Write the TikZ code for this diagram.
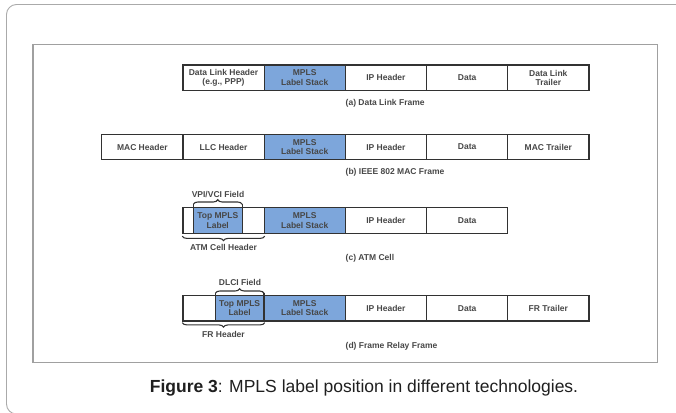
\documentclass[tikz,border=0pt]{standalone}
\usepackage{fontspec}
\setmainfont{Liberation Sans}
\usetikzlibrary{decorations.pathreplacing}
\definecolor{lblblue}{RGB}{125,166,219}
\definecolor{cellline}{RGB}{50,50,50}
\definecolor{framegray}{RGB}{160,160,160}

\begin{document}
\begin{tikzpicture}
  [x=1pt,y=-1pt,
   every node/.style={font=\fontsize{8.5}{9.5}\selectfont\bfseries,text=black!72},
   cell/.style={draw=cellline,line width=1.2pt,minimum width=81.2pt,minimum height=25.7pt,inner sep=0pt,align=center},
   blucell/.style={cell,fill=lblblue},
   toplbl/.style={fill=lblblue,minimum height=24.5pt,inner sep=0pt,align=center},
   bar/.style={draw=cellline,line width=1.3pt},
   brc/.style={draw=cellline,line width=1.1pt,decorate,decoration={brace,amplitude=4.5pt}},
   rowlbl/.style={anchor=west,inner sep=0pt}]
  \useasboundingbox (0,0) rectangle (676,412);
  \draw[framegray!90,line width=0.9pt,rounded corners=10pt] (6.5,4.5) rectangle (700,414);
  \draw[framegray,line width=1.4pt] (33,44.7) rectangle (657.7,362.5);

  % (a) data link frame
  \foreach \nm/\x/\txt in {a2/223.5/{Data Link Header\\(e.g., PPP)},a4/385.9/{IP Header},a5/467.1/{Data},a6/548.3/{Data Link\\Trailer}}
    \node[cell] (\nm) at (\x,77.8) {\txt};
  \node[blucell] (a3) at (304.7,77.8) {MPLS\\Label Stack};
  \node[rowlbl] (la) at (345.5,103) {(a) Data Link Frame};

  % (b) IEEE 802 MAC frame
  \foreach \nm/\x/\txt in {b1/142.3/{MAC Header},b2/223.5/{LLC Header},b4/385.9/{IP Header},b5/467.1/{Data},b6/548.3/{MAC Trailer}}
    \node[cell] (\nm) at (\x,147) {\txt};
  \node[blucell] (b3) at (304.7,147) {MPLS\\Label Stack};
  \node[rowlbl] (lb) at (345.5,172) {(b) IEEE 802 MAC Frame};

  % (c) ATM cell
  \node[toplbl,minimum width=48.5pt] (tc) at (217.75,220.7) {Top MPLS\\Label};
  \foreach \nm/\x/\txt in {c2/223.5/{},c4/385.9/{IP Header},c5/467.1/{Data}}
    \node[cell] (\nm) at (\x,220.7) {\txt};
  \node[blucell] (c3) at (304.7,220.7) {MPLS\\Label Stack};
  \draw[bar] ([yshift=4pt]tc.north west) -- (tc.south west);
  \draw[bar] ([yshift=4pt]tc.north east) -- (tc.south east);
  \draw[brc] ([yshift=4pt]tc.north west) -- ([yshift=4pt]tc.north east);
  \draw[brc] ([yshift=-2pt]c2.south east) -- ([yshift=-2pt]c2.south west);
  \node (vpi) at (218,195) {VPI/VCI Field};
  \node (atm) at (223.5,247.3) {ATM Cell Header};
  \node[rowlbl] (lc) at (345.5,258.5) {(c) ATM Cell};

  % (d) frame relay frame
  \node[toplbl,minimum width=48.3pt] (td) at (239.65,308.2) {Top MPLS\\Label};
  \foreach \nm/\x/\txt in {d2/223.5/{},d4/385.9/{IP Header},d5/467.1/{Data},d6/548.3/{FR Trailer}}
    \node[cell] (\nm) at (\x,308.2) {\txt};
  \node[blucell] (d3) at (304.7,308.2) {MPLS\\Label Stack};
  \draw[bar] ([yshift=2.5pt]td.north west) -- (td.south west);
  \draw[bar] ([yshift=2.5pt]td.north east) -- (td.south east);
  \draw[brc] ([yshift=2.5pt]td.north west) -- ([yshift=2.5pt]td.north east);
  \draw[brc] ([yshift=-1pt]d2.south east) -- ([yshift=-1pt]d2.south west);
  \node (dlci) at (240,282.7) {DLCI Field};
  \node (frh) at (223.5,334) {FR Header};
  \node[rowlbl] (ld) at (345.5,346) {(d) Frame Relay Frame};

  \node[text=black!88] (cap) at (364,388) {\fontsize{17.5}{20}\selectfont\mdseries\textbf{Figure 3}: MPLS label position in different technologies.};
\end{tikzpicture}
\end{document}
